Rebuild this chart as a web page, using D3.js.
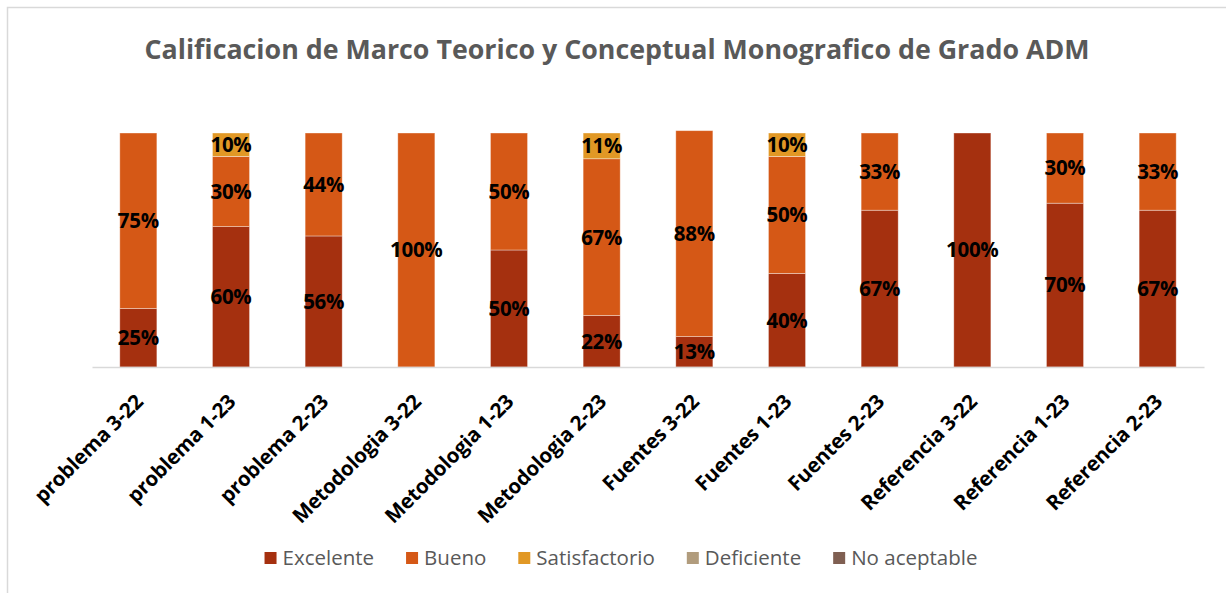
<!DOCTYPE html>
<html>
<head>
<meta charset="utf-8">
<script src="https://cdn.jsdelivr.net/npm/d3@7"></script>
<style>
  body { margin: 0; background: #fff; }
  svg { display: block; }
</style>
</head>
<body>
<div id="chart"></div>
<script>
// datos
const categories = ["problema 3-22", "problema 1-23", "problema 2-23", "Metodologia 3-22", "Metodologia 1-23", "Metodologia 2-23",
  "Fuentes 3-22", "Fuentes 1-23", "Fuentes 2-23", "Referencia 3-22", "Referencia 1-23", "Referencia 2-23"];
const seriesNames = ["Excelente", "Bueno", "Satisfactorio", "Deficiente", "No aceptable"];
const excelente =     [0.25, 0.60, 0.56, 0.00, 0.50, 0.22, 0.13, 0.40, 0.67, 1.00, 0.70, 0.67];
const bueno =         [0.75, 0.30, 0.44, 1.00, 0.50, 0.67, 0.88, 0.50, 0.33, 0.00, 0.30, 0.33];
const satisfactorio = [0.00, 0.10, 0.00, 0.00, 0.00, 0.11, 0.00, 0.10, 0.00, 0.00, 0.00, 0.00];
const deficiente =    [0, 0, 0, 0, 0, 0, 0, 0, 0, 0, 0, 0];
const noAceptable =   [0, 0, 0, 0, 0, 0, 0, 0, 0, 0, 0, 0];
const colors = ["#A5300F", "#D55816", "#E19825", "#B19C7D", "#7F5F52"];

const W = 1226, H = 593;
const svg = d3.select("#chart").append("svg").attr("width", W).attr("height", H);

// marco
svg.append("rect").attr("x", 7.5).attr("y", 7.5).attr("width", W + 20).attr("height", H + 20)
  .attr("fill", "#fff").attr("stroke", "#D9D9D9").attr("stroke-width", 1.5);

// titulo
svg.append("text")
  .attr("x", 617).attr("y", 59)
  .attr("text-anchor", "middle")
  .attr("font-family", "'Open Sans', sans-serif")
  .attr("font-weight", "bold")
  .attr("font-size", 26.5)
  .attr("fill", "#595959")
  .attr("textLength", 945)
  .attr("lengthAdjust", "spacingAndGlyphs")
  .text("Calificacion de Marco Teorico y Conceptual Monografico de Grado ADM");

const rows = categories.map((c, i) => ({
  cat: c,
  "Excelente": excelente[i],
  "Bueno": bueno[i],
  "Satisfactorio": satisfactorio[i],
  "Deficiente": deficiente[i],
  "No aceptable": noAceptable[i]
}));

const x = d3.scaleBand().domain(categories).range([92, 1204]).paddingInner(0.6).paddingOuter(0.3);
const y = d3.scaleLinear().domain([0, 1]).range([367, 133]);

const stacked = d3.stack().keys(seriesNames)(rows);

const layers = svg.selectAll(".layer").data(stacked).join("g")
  .attr("class", "layer")
  .attr("fill", (d, i) => colors[i]);

layers.selectAll("rect").data(d => d.filter(p => p[1] - p[0] > 0)).join("rect")
  .attr("x", d => x(d.data.cat))
  .attr("width", x.bandwidth())
  .attr("y", d => y(d[1]))
  .attr("height", d => y(d[0]) - y(d[1]))
  .attr("stroke", "#fff")
  .attr("stroke-opacity", 0.45)
  .attr("stroke-width", 0.8);

// etiquetas de porcentaje
layers.selectAll("text").data(d => d.filter(p => p[1] - p[0] > 0)).join("text")
  .attr("x", d => x(d.data.cat) + x.bandwidth() / 2)
  .attr("y", d => (y(d[0]) + y(d[1])) / 2)
  .attr("dy", "0.36em")
  .attr("text-anchor", "middle")
  .attr("font-family", "'Open Sans', sans-serif")
  .attr("font-weight", "bold")
  .attr("font-size", 20.5)
  .attr("letter-spacing", -0.3)
  .attr("fill", "#000")
  .text(d => Math.round((d[1] - d[0]) * 100) + "%");

// eje x
const xAxis = svg.append("g").attr("transform", "translate(0,367)")
  .call(d3.axisBottom(x).tickSize(0).tickPadding(0));
xAxis.select(".domain").attr("stroke", "#D9D9D9").attr("stroke-width", 1.5);
xAxis.selectAll(".tick text")
  .attr("font-family", "'Open Sans', sans-serif")
  .attr("font-weight", "bold")
  .attr("font-size", 20.5)
  .attr("letter-spacing", -0.2)
  .attr("fill", "#000")
  .attr("text-anchor", "end")
  .attr("y", 0)
  .attr("dy", 0)
  .attr("transform", "translate(6,36) rotate(-45)");

// leyenda
const legend = svg.append("g");
let lx = 0;
seriesNames.forEach((name, i) => {
  const g = legend.append("g").attr("transform", `translate(${lx},0)`);
  g.append("rect").attr("x", 0).attr("y", -6).attr("width", 12).attr("height", 12).attr("fill", colors[i]);
  const t = g.append("text").attr("x", 18).attr("y", 0).attr("dy", "0.35em")
    .attr("font-family", "'Open Sans', sans-serif")
    .attr("font-size", 20.5)
    .attr("fill", "#595959")
    .text(name);
  lx += 18 + t.node().getComputedTextLength() + 32;
});
const legendW = lx - 32;
legend.attr("transform", `translate(${621 - legendW / 2},558)`);
</script>
</body>
</html>
